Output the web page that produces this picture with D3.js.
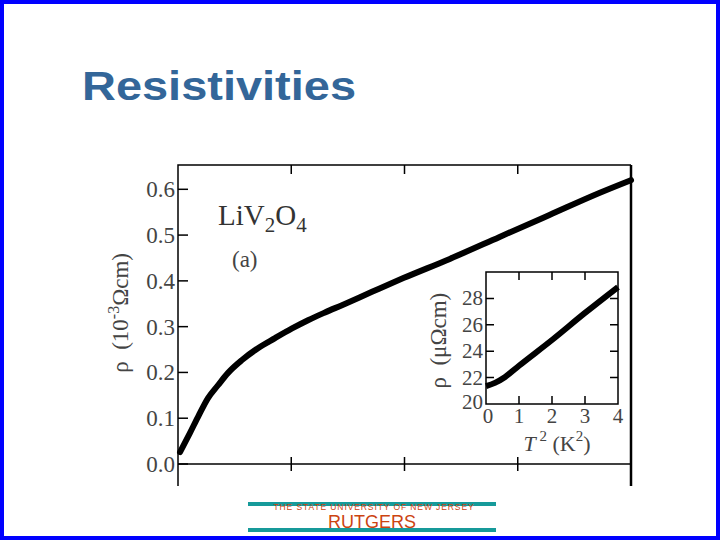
<!DOCTYPE html>
<html>
<head>
<meta charset="utf-8">
<script src="https://cdn.jsdelivr.net/npm/d3@7"></script>
<style>
  body { margin: 0; background: #fff; }
  svg { display: block; }
</style>
</head>
<body>
<div id="viz"></div>
<script>
// main panel: rho (10^-3 Ohm cm) vs T
const mainT = [1.8, 10.6, 17.7, 26.5, 35.3, 44.2, 56.5, 70.6, 85.7, 100.7, 114.8, 129.8, 144.8, 171.3, 199, 240, 284, 328, 372, 400];
const mainRho = [0.026, 0.068, 0.103, 0.144, 0.172, 0.199, 0.227, 0.253, 0.275, 0.296, 0.314, 0.331, 0.347, 0.376, 0.406, 0.448, 0.496, 0.544, 0.592, 0.62];
const mainYTicks = [0, 0.1, 0.2, 0.3, 0.4, 0.5, 0.6];
const mainXTicks = [100, 200, 300];

// inset: rho (micro Ohm cm) vs T^2
const insetT2 = [0, 0.27, 0.58, 1, 2, 3, 4];
const insetRho = [21.35, 21.6, 22.05, 22.9, 24.85, 26.9, 28.86];
const insetYTicks = [20, 22, 24, 26, 28];
const insetXTicks = [0, 1, 2, 3, 4];

const width = 720;
const height = 540;
const serif = "'Liberation Serif', 'DejaVu Serif', serif";
const sans = "'Liberation Sans', Arial, sans-serif";

const svg = d3.select('#viz').append('svg')
  .attr('width', width)
  .attr('height', height);

svg.append('rect')
  .attr('x', 2).attr('y', 2)
  .attr('width', width - 4).attr('height', height - 4)
  .attr('fill', '#fff')
  .attr('stroke', '#0000ff')
  .attr('stroke-width', 4);

svg.append('text')
  .attr('x', 82).attr('y', 100)
  .attr('font-family', sans)
  .attr('font-weight', 'bold')
  .attr('font-size', 40)
  .attr('textLength', 274)
  .attr('lengthAdjust', 'spacingAndGlyphs')
  .attr('fill', '#336699')
  .text('Resistivities');

// ---- main panel
let x = d3.scaleLinear().domain([0, 400]).range([178, 631]);
let y = d3.scaleLinear().domain([0, 0.6]).range([464, 189.3]);
const yBottom = y.invert(486);
const yTop = y.invert(165);

let g = svg.append('g');

g.append('path')
  .attr('fill', 'none')
  .attr('stroke', '#000')
  .attr('stroke-width', 1.5)
  .attr('d', `M${x(0)},${y(yBottom)}V${y(yTop)}H${x(400)}`);
g.append('line')
  .attr('x1', x(400)).attr('x2', x(400))
  .attr('y1', y(yTop)).attr('y2', y(yBottom))
  .attr('stroke', '#000').attr('stroke-width', 2.5);
g.append('line')
  .attr('x1', x(0)).attr('x2', x(400))
  .attr('y1', y(0)).attr('y2', y(0))
  .attr('stroke', '#000').attr('stroke-width', 1.5);

g.selectAll('.xtick')
  .data(mainXTicks)
  .enter().append('path')
  .attr('stroke', '#000').attr('stroke-width', 1.5)
  .attr('d', d => `M${x(d)},${y(0) - 7}V${y(0) + 7}M${x(d)},${y(yTop)}v9`);

g.selectAll('.ytick')
  .data(mainYTicks)
  .enter().append('line')
  .attr('x1', x(0)).attr('x2', x(0) + 10)
  .attr('y1', d => y(d)).attr('y2', d => y(d))
  .attr('stroke', '#000').attr('stroke-width', 1.5);

g.selectAll('.ylab')
  .data(mainYTicks)
  .enter().append('text')
  .attr('x', 175)
  .attr('y', d => y(d) + 8)
  .attr('text-anchor', 'end')
  .attr('font-family', serif)
  .attr('font-size', 23)
  .attr('fill', '#444')
  .text(d => d3.format('.1f')(d));

let ylab = g.append('text')
  .attr('transform', `translate(128,${y(0.33)}) rotate(-90)`)
  .attr('text-anchor', 'middle')
  .attr('font-family', serif)
  .attr('font-size', 23)
  .attr('fill', '#444');
ylab.append('tspan').text('ρ\u00a0\u00a0(10');
ylab.append('tspan').attr('dy', -9).attr('font-size', 16).text('-3');
ylab.append('tspan').attr('dy', 9).text('Ωcm)');

let comp = g.append('text')
  .attr('x', 218).attr('y', 225)
  .attr('font-family', serif)
  .attr('font-size', 29)
  .attr('fill', '#333');
comp.append('tspan').text('LiV');
comp.append('tspan').attr('dy', 7).attr('font-size', 21).text('2');
comp.append('tspan').attr('dy', -7).text('O');
comp.append('tspan').attr('dy', 7).attr('font-size', 21).text('4');

g.append('text')
  .attr('x', 232).attr('y', 267)
  .attr('font-family', serif)
  .attr('font-size', 23)
  .attr('fill', '#444')
  .text('(a)');

let line = d3.line()
  .curve(d3.curveMonotoneX)
  .x(d => x(d[0]))
  .y(d => y(d[1]));

g.append('path')
  .attr('fill', 'none')
  .attr('stroke', '#000')
  .attr('stroke-width', 6)
  .attr('stroke-linecap', 'round')
  .attr('d', line(d3.zip(mainT, mainRho)));

// ---- inset
let xi = d3.scaleLinear().domain([0, 4]).range([486, 618]);
let yi = d3.scaleLinear().domain([20, 30]).range([404, 272]);

let gi = svg.append('g');

gi.append('rect')
  .attr('x', xi(0)).attr('y', yi(30))
  .attr('width', xi(4) - xi(0)).attr('height', yi(20) - yi(30))
  .attr('fill', '#fff')
  .attr('stroke', '#000')
  .attr('stroke-width', 1.5);

gi.selectAll('.ixtick')
  .data(insetXTicks.slice(1, 4))
  .enter().append('path')
  .attr('stroke', '#000').attr('stroke-width', 1.5)
  .attr('d', d => `M${xi(d)},${yi(20)}v-8M${xi(d)},${yi(30)}v8`);

gi.selectAll('.iytick')
  .data(insetYTicks.slice(1))
  .enter().append('path')
  .attr('stroke', '#000').attr('stroke-width', 1.5)
  .attr('d', d => `M${xi(0)},${yi(d)}h8M${xi(4)},${yi(d)}h-8`);

gi.selectAll('.iylab')
  .data(insetYTicks)
  .enter().append('text')
  .attr('x', 483)
  .attr('y', d => yi(d) + (d === 20 ? 5 : 7))
  .attr('text-anchor', 'end')
  .attr('font-family', serif)
  .attr('font-size', 21)
  .attr('fill', '#444')
  .text(d => d);

gi.selectAll('.ixlab')
  .data(insetXTicks)
  .enter().append('text')
  .attr('x', d => xi(d) + (d === 0 ? 2 : 0))
  .attr('y', 423)
  .attr('text-anchor', 'middle')
  .attr('font-family', serif)
  .attr('font-size', 21)
  .attr('fill', '#444')
  .text(d => d);

let ixl = gi.append('text')
  .attr('x', 557).attr('y', 451)
  .attr('text-anchor', 'middle')
  .attr('font-family', serif)
  .attr('font-size', 22)
  .attr('fill', '#444');
ixl.append('tspan').attr('font-style', 'italic').text('T');
ixl.append('tspan').attr('dy', -10).attr('font-size', 15).text(' 2');
ixl.append('tspan').attr('dy', 10).text(' (K');
ixl.append('tspan').attr('dy', -10).attr('font-size', 15).text('2');
ixl.append('tspan').attr('dy', 10).text(')');

gi.append('text')
  .attr('transform', `translate(446,${yi(24.8)}) rotate(-90)`)
  .attr('text-anchor', 'middle')
  .attr('font-family', serif)
  .attr('font-size', 23)
  .attr('fill', '#444')
  .text('ρ\u00a0\u00a0(μΩcm)');

let iline = d3.line()
  .curve(d3.curveMonotoneX)
  .x(d => xi(d[0]))
  .y(d => yi(d[1]));

gi.append('path')
  .attr('fill', 'none')
  .attr('stroke', '#000')
  .attr('stroke-width', 6)
  .attr('d', iline(d3.zip(insetT2, insetRho)));

// ---- footer
let foot = svg.append('g');
[504, 530].forEach(yy => {
  foot.append('rect')
    .attr('x', 248).attr('y', yy - 2)
    .attr('width', 248).attr('height', 4)
    .attr('fill', '#169a9a');
});
foot.append('text')
  .attr('x', 374).attr('y', 510)
  .attr('text-anchor', 'middle')
  .attr('font-family', sans)
  .attr('font-size', 8.5)
  .attr('letter-spacing', 0.9)
  .attr('fill', '#cc4411')
  .text('THE STATE UNIVERSITY OF NEW JERSEY');
foot.append('text')
  .attr('x', 372).attr('y', 528)
  .attr('text-anchor', 'middle')
  .attr('font-family', sans)
  .attr('font-size', 18)
  .attr('fill', '#cc4411')
  .text('RUTGERS');
</script>
</body>
</html>
